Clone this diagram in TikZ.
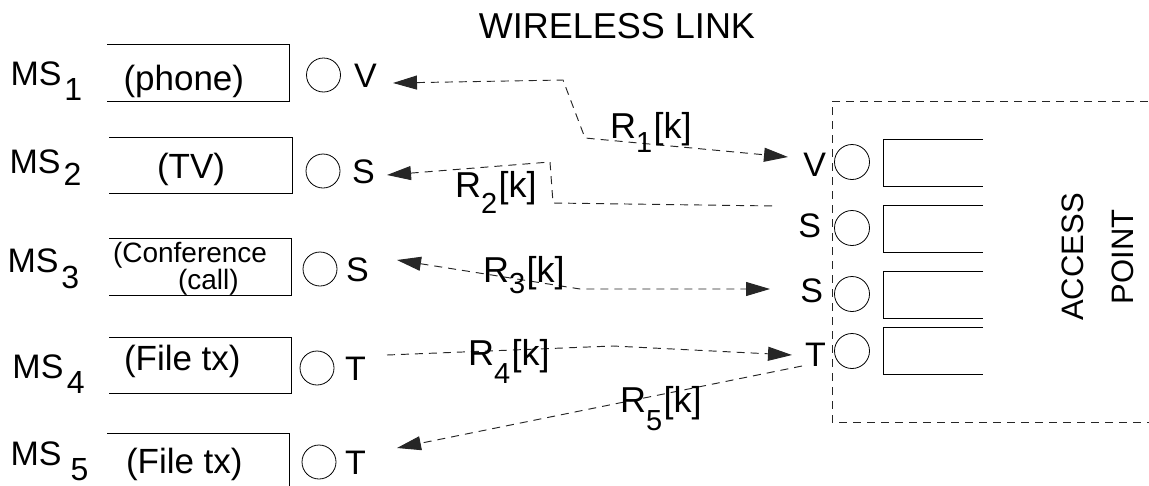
\documentclass[tikz,border=0pt]{standalone}
\usepackage{fontspec}
\setmainfont{Liberation Sans}
\usetikzlibrary{arrows.meta}
\newcommand{\fs}[1]{\fontsize{#1}{#1}\selectfont}
\newcommand{\MSlab}[3]{MS\kern#3pt\raisebox{-#2pt}{\fs{32}#1}}
\newcommand{\Rlab}[2]{R\raisebox{-#2pt}{\fs{29}#1}\kern1.5pt[k]}
\tikzset{
  every node/.style={inner sep=0pt, outer sep=0pt},
  ln/.style={line width=1pt, draw=black},
  ring/.style={circle, draw=black, line width=0.8pt, minimum size=34pt},
  dsh/.style={line width=0.95pt, draw=black!85, dash pattern=on 8pt off 6pt},
  tipL/.style={{Triangle[length=24pt,width=14pt]}-},
  tipR/.style={-{Triangle[length=24pt,width=14pt]}},
  tipLR/.style={{Triangle[length=24pt,width=14pt]}-{Triangle[length=24pt,width=14pt]}},
  mslbl/.style={font=\fs{34}, anchor=base west},
  rlbl/.style={font=\fs{36}, anchor=base west},
  boxtxt/.style={font=\fs{35}, anchor=base west},
  cls/.style={font=\fs{34}},
}
\begin{document}
\begin{tikzpicture}[x=1pt,y=-1pt]
\useasboundingbox (0,0) rectangle (1149,485);
% title
\node[font=\fs{36}, anchor=base] (title) at (617,38) {WIRELESS LINK};
% MS labels
\node[mslbl] (ms1) at (10.5,85) {\MSlab{1}{15}{3}};
\node[mslbl] (ms2) at (9.5,173) {\MSlab{2}{12}{3}};
\node[mslbl] (ms3) at (7.5,272) {\MSlab{3}{16}{3}};
\node[mslbl] (ms4) at (12.5,378) {\MSlab{4}{15}{3.5}};
\node[mslbl] (ms5) at (10.5,465) {\MSlab{5}{15}{9}};
% left queues (open on the left)
\node[minimum width=182pt, minimum height=57pt] (b1) at (198,72.5) {};
\node[minimum width=183pt, minimum height=56pt] (b2) at (200.5,165) {};
\node[minimum width=182pt, minimum height=57pt] (b3) at (200,266.5) {};
\node[minimum width=182pt, minimum height=56pt] (b4) at (200,365) {};
\foreach \b in {b1,b2,b3,b4}
  \draw[ln] (\b.north west) -- (\b.north east) -- (\b.south east) -- (\b.south west);
\coordinate (b5a) at (107,433);
\coordinate (b5b) at (289,433);
\coordinate (b5c) at (289,486);
\draw[ln] (b5a) -- (b5b) -- (b5c);
% queue texts
\node[boxtxt] (t1) at (123.5,90) {(phone)};
\node[boxtxt] (t2) at (157,178) {(TV)};
\node[font=\fs{28}, anchor=base west] (t3a) at (113,262) {(Conference};
\node[font=\fs{28}, anchor=base west] (t3b) at (178,289) {(call)};
\node[boxtxt] (t4) at (124,370) {(File tx)};
\node[boxtxt] (t5) at (126,473) {(File tx)};
% left circles and class letters
\node[ring] (c1) at (323.5,75) {};
\node[ring] (c2) at (323,171) {};
\node[ring] (c3) at (320,269) {};
\node[ring] (c4) at (317,368) {};
\node[ring] (c5) at (319,462) {};
\node[cls, anchor=west] (lv1) at (354,76) {V};
\node[cls, anchor=west] (lv2) at (352,172) {S};
\node[cls, anchor=west] (lv3) at (346,270) {S};
\node[cls, anchor=west] (lv4) at (345,369) {T};
\node[cls, anchor=west] (lv5) at (345,463) {T};
% access point frame
\node[minimum width=330pt, minimum height=321pt] (ap) at (997,261.5) {};
\draw[dsh] (ap.north east) -- (ap.north west) -- (ap.south west) -- (ap.south east);
\node[rotate=90, align=center, font=\fontsize{31}{50}\selectfont] (aptxt) at (1098,257) {ACCESS\\POINT};
% AP queues (open on the right)
\node[minimum width=100pt, minimum height=47pt] (a1) at (933,162.5) {};
\node[minimum width=100pt, minimum height=47pt] (a2) at (933,228.5) {};
\node[minimum width=100pt, minimum height=47pt] (a3) at (933,294.5) {};
\node[minimum width=100pt, minimum height=47pt] (a4) at (933,350.5) {};
\foreach \b in {a1,a2,a3,a4}
  \draw[ln] (\b.north east) -- (\b.north west) -- (\b.south west) -- (\b.south east);
\node[ring, minimum size=35pt] (d1) at (852,162) {};
\node[ring, minimum size=35pt] (d2) at (852,228) {};
\node[ring, minimum size=35pt] (d3) at (852,294) {};
\node[ring, minimum size=35pt] (d4) at (852,351) {};
\node[cls, anchor=east] (rv1) at (826,165) {V};
\node[cls, anchor=east] (rv2) at (821,226) {S};
\node[cls, anchor=east] (rv3) at (823,291) {S};
\node[cls, anchor=east] (rv4) at (826,355) {T};
% link 1
\coordinate (r1a) at (393,83);
\coordinate (r1b) at (563,80);
\coordinate (r1c) at (585,138);
\coordinate (r1d) at (788,157);
\draw[dsh, tipLR] (r1a) -- (r1b) -- (r1c) -- (r1d);
% link 2
\coordinate (r2a) at (387,175);
\coordinate (r2b) at (550,162);
\coordinate (r2c) at (553,203);
\coordinate (r2d) at (775,206);
\draw[dsh, tipL] (r2a) -- (r2b) -- (r2c) -- (r2d);
% link 3
\coordinate (r3a) at (397,260);
\coordinate (r3b) at (580,289);
\coordinate (r3c) at (770,289);
\draw[dsh, tipLR] (r3a) -- (r3b) -- (r3c);
% link 4
\coordinate (r4a) at (387,355);
\coordinate (r4b) at (613,346);
\coordinate (r4c) at (792,355);
\draw[dsh, tipR] (r4a) -- (r4b) -- (r4c);
% link 5
\coordinate (r5a) at (802,366);
\coordinate (r5b) at (397,448);
\draw[dsh, tipR] (r5a) -- (r5b);
% rate labels
\node[rlbl] (R1) at (610,138) {\Rlab{1}{14}};
\node[rlbl] (R2) at (455,197) {\Rlab{2}{16}};
\node[rlbl] (R3) at (483,282) {\Rlab{3}{11}};
\node[rlbl] (R4) at (468,365) {\Rlab{4}{18}};
\node[rlbl] (R5) at (620,412) {\Rlab{5}{18}};
\end{tikzpicture}
\end{document}
